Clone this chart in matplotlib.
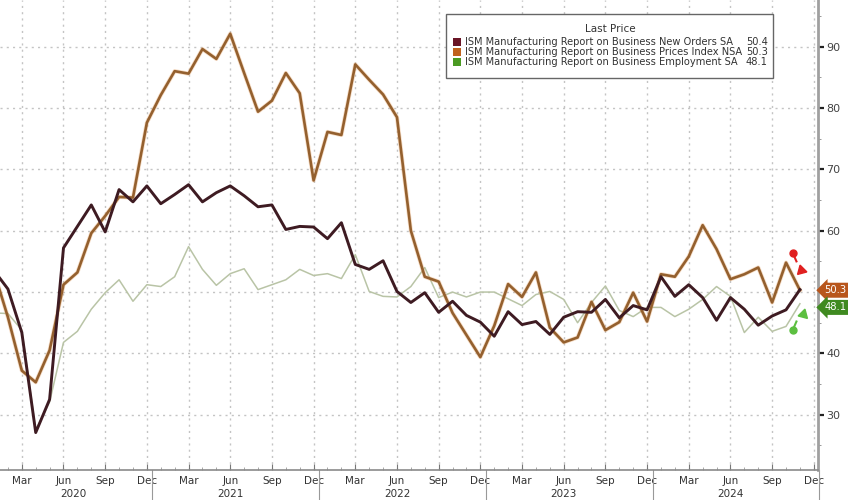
import numpy as np
import matplotlib.pyplot as plt
from matplotlib.patches import Rectangle
from matplotlib.ticker import FixedLocator, MultipleLocator

plt.rcParams['font.family'] = 'DejaVu Sans'

# Monthly readings, Jan 2020 .. Nov 2024
new_orders = [53.5, 50.5, 43.4, 27.1, 32.5, 57.2, 60.7, 64.2, 59.8, 66.7, 64.7, 67.3,
              64.4, 65.9, 67.5, 64.7, 66.2, 67.3, 65.7, 63.9, 64.2, 60.2, 60.7, 60.6,
              58.7, 61.3, 54.5, 53.7, 55.1, 50.1, 48.3, 49.9, 46.7, 48.5, 46.2, 45.1,
              42.8, 46.8, 44.7, 45.2, 43.1, 45.9, 46.8, 46.7, 48.8, 45.8, 47.8, 47.1,
              52.5, 49.3, 51.2, 49.1, 45.4, 49.1, 47.2, 44.6, 46.1, 47.1, 50.4]
prices = [53.3, 45.9, 37.2, 35.3, 40.5, 51.2, 53.2, 59.6, 62.4, 65.5, 65.4, 77.6,
          82.1, 86.0, 85.6, 89.6, 88.0, 92.1, 85.7, 79.4, 81.2, 85.7, 82.4, 68.2,
          76.1, 75.6, 87.1, 84.6, 82.2, 78.5, 60.0, 52.5, 51.7, 46.6, 43.0, 39.4,
          44.5, 51.3, 49.2, 53.2, 44.2, 41.8, 42.6, 48.4, 43.8, 45.1, 49.9, 45.2,
          52.9, 52.5, 55.8, 60.9, 57.0, 52.1, 52.9, 54.0, 48.3, 54.8, 50.3]
employment = [46.6, 46.5, 43.8, 27.5, 32.1, 41.8, 43.6, 47.2, 49.9, 52.0, 48.5, 51.2,
              50.9, 52.5, 57.4, 53.7, 51.1, 53.0, 53.8, 50.4, 51.2, 52.0, 53.7, 52.7,
              53.0, 52.2, 56.1, 50.1, 49.3, 49.2, 50.9, 54.0, 49.1, 50.0, 49.2, 50.0,
              50.0, 48.9, 47.8, 49.6, 50.1, 48.8, 45.0, 48.3, 51.0, 47.0, 46.0, 47.5,
              47.5, 46.0, 47.2, 48.8, 50.9, 49.3, 43.4, 45.9, 43.6, 44.4, 48.1]

series_names = ['ISM Manufacturing Report on Business New Orders SA',
                'ISM Manufacturing Report on Business Prices Index NSA',
                'ISM Manufacturing Report on Business Employment SA']
last_values = ['50.4', '50.3', '48.1']
month_labels = ['Mar', 'Jun', 'Sep', 'Dec']
years = ['2020', '2021', '2022', '2023', '2024']
yticks = [30, 40, 50, 60, 70, 80, 90]
ytick_labels = ['30', '40', '', '60', '70', '80', '90']  # 50 sits under the last-value tag

line_colors = ['#3e1b22', '#94602e', '#b9c4a6']
key_colors = ['#6a1526', '#c0621e', '#4a9a22']
tag_colors = ['#5a1a24', '#b8561c', '#3f8a20']

x = np.arange(len(new_orders))

fig = plt.figure(figsize=(8.48, 5.0), dpi=100)
ax = fig.add_axes([0.0, 0.06, 0.9646, 0.94])

ax.plot(x, employment, color=line_colors[2], lw=1.1, zorder=3)
ax.plot(x, prices, color='#e8a060', lw=3.0, alpha=0.35, zorder=3.5)
ax.plot(x, prices, color=line_colors[1], lw=1.9, zorder=4)
ax.plot(x, new_orders, color=line_colors[0], lw=2.1, zorder=5)

ax.set_xlim(0.43, 59.3)
ax.set_ylim(21, 97.6)

# grid
qticks = [m for m in range(2, 60, 3)]
ax.xaxis.set_major_locator(FixedLocator(qticks))
ax.set_xticklabels([month_labels[i % 4] for i in range(len(qticks))])
ax.xaxis.set_minor_locator(MultipleLocator(1))
ax.yaxis.set_major_locator(FixedLocator(yticks))
ax.set_yticklabels(ytick_labels)
ax.yaxis.set_minor_locator(MultipleLocator(5))
ax.grid(True, which='major', color='#c4c4c4', linestyle=(0, (1.5, 3)), linewidth=1.0)

ax.yaxis.tick_right()
for s in ['top', 'left']:
    ax.spines[s].set_visible(False)
ax.spines['right'].set_color('#a0a0a0')
ax.spines['right'].set_linewidth(2)
ax.spines['bottom'].set_color('#8a8a8a')
ax.spines['bottom'].set_linewidth(1.2)

ax.tick_params(axis='x', which='major', direction='in', length=4, color='#777777',
               labelsize=7.5, labelcolor='#333333', pad=4)
ax.tick_params(axis='x', which='minor', direction='in', length=2, color='#999999')
ax.tick_params(axis='y', which='major', direction='out', length=4, width=1.6,
               color='#222222', labelsize=8, labelcolor='#444444', pad=2)
ax.tick_params(axis='y', which='minor', direction='out', length=2, color='#888888')

# year labels and separators
xt = ax.get_xaxis_transform()
for i, yr in enumerate(years):
    start = max(-1 + 12 * i, 0.43)
    end = 11 + 12 * i
    ax.text((start + end) / 2, -0.051, yr, transform=xt, ha='center', va='center',
            fontsize=7.5, color='#333333')
    ax.plot([end + 0.4, end + 0.4], [0, -0.064], transform=xt, color='#999999',
            lw=0.8, clip_on=False)

# legend box
lx0, ly0, lw_, lh = 446 / 818, 1 - 78 / 470, (773 - 446) / 818, (78 - 14) / 470
ax.add_patch(Rectangle((lx0, ly0), lw_, lh, transform=ax.transAxes, facecolor='white',
                       edgecolor='#666666', lw=1.0, zorder=10))
ax.text(610 / 818, 1 - 29 / 470, 'Last Price', transform=ax.transAxes, ha='center',
        va='center', fontsize=7.5, color='#333333', zorder=11)
for i, (name, val) in enumerate(zip(series_names, last_values)):
    yy = 1 - (42 + 10 * i) / 470
    ax.add_patch(Rectangle((453 / 818, yy - 4 / 470), 8 / 818, 8 / 470,
                           transform=ax.transAxes, facecolor=key_colors[i],
                           edgecolor='none', zorder=11))
    ax.text(465 / 818, yy, name, transform=ax.transAxes, ha='left', va='center',
            fontsize=7.1, color='#333333', zorder=11)
    ax.text(768 / 818, yy, val, transform=ax.transAxes, ha='right', va='center',
            fontsize=7.1, color='#333333', zorder=11)

# last value tags on the right axis (new orders tag sits hidden under prices)
yt = ax.get_yaxis_transform()
for i, v in [(1, prices[-1]), (2, employment[-1] - 0.6)]:
    ax.text(1.008, v, last_values[i], transform=yt, ha='left',
            va='center', fontsize=7.2, color='white', zorder=12,
            bbox=dict(boxstyle='larrow,pad=0.25', facecolor=tag_colors[i],
                      edgecolor='none'), clip_on=False)

# decorative pins
ax.plot([57.5, 57.75], [56.3, 55.0], color='#e02020', lw=1.5, zorder=6)
ax.plot(57.5, 56.4, 'o', color='#e02020', ms=5, zorder=6)
ax.plot(58.1, 53.6, marker=(3, 0, 15), color='#e02020', ms=8, zorder=6)
ax.plot([57.5, 57.75], [43.9, 45.2], color='#5cbf40', lw=1.5, zorder=6)
ax.plot(57.5, 43.8, 'o', color='#5cbf40', ms=5, zorder=6)
ax.plot(58.2, 46.5, marker=(3, 0, -15), color='#5cbf40', ms=8, zorder=6)

fig.savefig('out.png', dpi=100, facecolor='white')
